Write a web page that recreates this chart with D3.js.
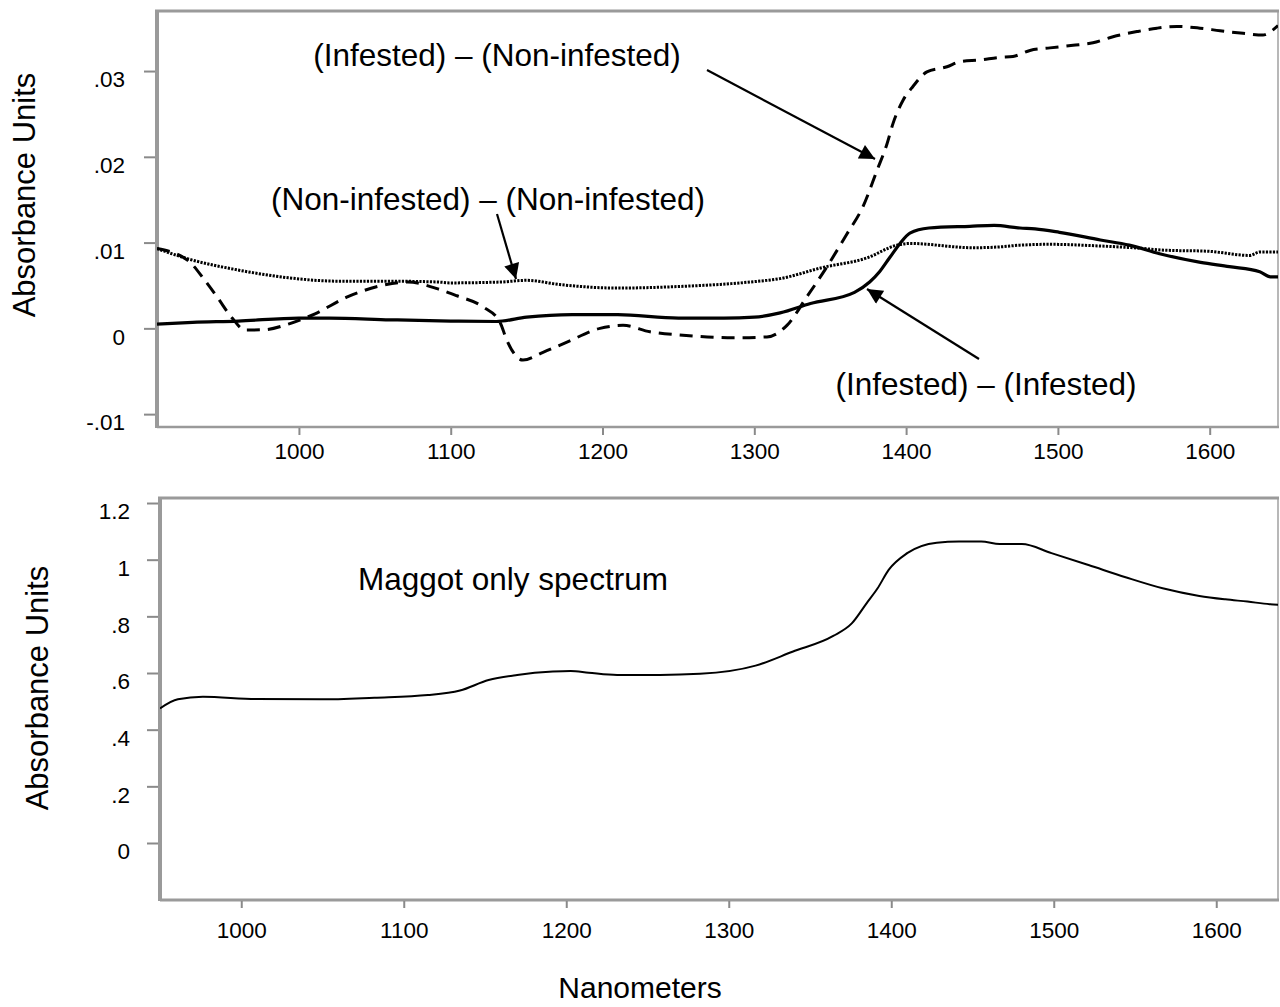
<!DOCTYPE html>
<html>
<head>
<meta charset="utf-8">
<script src="https://cdn.jsdelivr.net/npm/d3@7/dist/d3.min.js"></script>
<style>
  html, body { margin: 0; padding: 0; background: #fff; }
  svg { display: block; }
  text { font-family: "Liberation Sans", Arial, Helvetica, sans-serif; fill: #000; }
</style>
</head>
<body>
<svg id="chart" width="1280" height="1007"></svg>
<script>
// ---------------- DATA ----------------
// Top panel: difference spectra (nm, absorbance units)
const nmInfNon  = [906.5, 927, 938, 946.7, 956, 964.5, 977.6, 993, 1010.6, 1032.3, 1054.7, 1071.8, 1091.6, 1104, 1121.3, 1132.5, 1137, 1147.6, 1160.8, 1176.6, 1198.3, 1213.5, 1231.3, 1253, 1286, 1308.3, 1321.5, 1334.7, 1347.9, 1361, 1371.6, 1380.8, 1387.4, 1391.4, 1398, 1404.5, 1413.7, 1426.9, 1435.5, 1448.6, 1461.8, 1470.4, 1481.6, 1494.8, 1510, 1523.1, 1536.3, 1552.1, 1565.3, 1578.4, 1593.6, 1606.8, 1622, 1635.1, 1641.7, 1645];
const absInfNon = [0.0093, 0.0079, 0.0056, 0.0035, 0.0012, -0.0002, -0.00015, 0.0005, 0.0017, 0.0037, 0.0050, 0.0054, 0.0046, 0.0038, 0.0025, 0.0007, -0.0014, -0.0037, -0.0028, -0.0016, 0.0000, 0.00035, -0.0004, -0.0008, -0.0011, -0.0010, 0.00035, 0.0037, 0.0072, 0.0110, 0.0142, 0.0184, 0.0215, 0.0239, 0.0266, 0.0282, 0.0299, 0.0305, 0.0311, 0.0313, 0.0316, 0.0317, 0.0324, 0.0327, 0.0330, 0.0333, 0.0340, 0.0346, 0.0350, 0.0352, 0.0350, 0.0347, 0.0344, 0.0342, 0.0348, 0.0353];

const nmNonNon  = [906.5, 927, 960, 993, 1026, 1059, 1092, 1099.5, 1132.5, 1150, 1172, 1209.5, 1253, 1297, 1317, 1345, 1374, 1394, 1402.5, 1444, 1462, 1475, 1495, 1528, 1549.5, 1572, 1598, 1626.5, 1633, 1645];
const absNonNon = [0.0093, 0.0081, 0.0068, 0.0059, 0.0055, 0.0055, 0.0054, 0.0053, 0.0054, 0.0056, 0.0051, 0.0047, 0.0049, 0.0054, 0.0058, 0.0071, 0.0082, 0.0097, 0.0099, 0.0094, 0.0095, 0.0097, 0.0098, 0.0096, 0.0094, 0.0091, 0.0090, 0.0085, 0.0089, 0.0089];

const nmInfInf  = [906.5, 930, 960, 1000, 1020, 1060, 1100, 1130, 1150, 1180, 1210, 1250, 1280, 1300, 1317, 1337, 1366, 1376, 1382.5, 1389, 1396, 1402.5, 1415, 1442, 1458, 1475, 1485, 1501, 1528, 1547, 1567, 1594, 1613, 1633, 1640, 1645];
const absInfInf = [0.0005, 0.0007, 0.00085, 0.0012, 0.0012, 0.0010, 0.00085, 0.0008, 0.0013, 0.0016, 0.0016, 0.0012, 0.0012, 0.0013, 0.0018, 0.0029, 0.0042, 0.0054, 0.0066, 0.0082, 0.0099, 0.0111, 0.0117, 0.0119, 0.0120, 0.0117, 0.0116, 0.0112, 0.0103, 0.0097, 0.0087, 0.0077, 0.0072, 0.0066, 0.0060, 0.0060];

// Bottom panel: maggot only spectrum
const nmMaggot  = [950, 961, 976.4, 1009.3, 1048.9, 1081.9, 1114.9, 1134.6, 1152.2, 1169.8, 1191.8, 1202.7, 1213.8, 1231.3, 1257.7, 1282.3, 1316.5, 1339.2, 1364.3, 1375.7, 1384.8, 1391.6, 1398.4, 1409.8, 1428, 1441.7, 1455.4, 1466.7, 1480.4, 1498.6, 1521.4, 1544.2, 1567, 1589.6, 1605.6, 1619.2, 1632.9, 1638.6];
const absMaggot = [0.475, 0.507, 0.516, 0.508, 0.507, 0.513, 0.522, 0.538, 0.575, 0.593, 0.605, 0.607, 0.601, 0.593, 0.593, 0.597, 0.626, 0.675, 0.731, 0.775, 0.846, 0.899, 0.964, 1.023, 1.060, 1.064, 1.064, 1.055, 1.055, 1.023, 0.981, 0.938, 0.899, 0.872, 0.860, 0.852, 0.843, 0.841];

// Ticks
const topXTicks = [1000, 1100, 1200, 1300, 1400, 1500, 1600];
const topYTicks = [-0.01, 0, 0.01, 0.02, 0.03];
const topYLabels = ["-.01", "0", ".01", ".02", ".03"];
const botXTicks = [1000, 1100, 1200, 1300, 1400, 1500, 1600];
const botYTicks = [0, 0.2, 0.4, 0.6, 0.8, 1, 1.2];
const botYLabels = ["0", ".2", ".4", ".6", ".8", "1", "1.2"];

// Texts
const yTitle = "Absorbance Units";
const xTitle = "Nanometers";
const lblInfNon = "(Infested) \u2013 (Non-infested)";
const lblNonNon = "(Non-infested) \u2013 (Non-infested)";
const lblInfInf = "(Infested) \u2013 (Infested)";
const lblMaggot = "Maggot only spectrum";

// ---------------- DRAWING ----------------
const svg = d3.select("#chart");
const FRAME = "#9a9a9a";
const TICK = "#8a8a8a";

svg.append("defs").append("marker")
  .attr("id", "arrow").attr("viewBox", "0 0 10 10")
  .attr("refX", 10).attr("refY", 5)
  .attr("markerWidth", 9).attr("markerHeight", 7)
  .attr("markerUnits", "strokeWidth")
  .attr("orient", "auto")
  .append("path").attr("d", "M0,0 L10,5 L0,10 Z").attr("fill", "#000");

function panel(cfg) {
  const g = svg.append("g");
  const x = d3.scaleLinear().domain(cfg.xDomain).range([cfg.left, cfg.right]);
  const y = d3.scaleLinear().domain(cfg.yDomain).range([cfg.bottom, cfg.top]);

  const clipId = "clip" + cfg.id;
  svg.select("defs").append("clipPath").attr("id", clipId)
    .append("rect").attr("x", cfg.left).attr("y", cfg.top)
    .attr("width", cfg.right - cfg.left).attr("height", cfg.bottom - cfg.top);

  // frame: thin right/bottom, thicker left/top
  g.append("line").attr("x1", cfg.right).attr("x2", cfg.right).attr("y1", cfg.top).attr("y2", cfg.bottom)
    .attr("stroke", "#b8b8b8").attr("stroke-width", 2);
  g.append("line").attr("x1", cfg.left).attr("x2", cfg.right + 1).attr("y1", cfg.bottom).attr("y2", cfg.bottom)
    .attr("stroke", FRAME).attr("stroke-width", cfg.bottomW);
  g.append("line").attr("x1", cfg.left - 2).attr("x2", cfg.right + 1).attr("y1", cfg.top).attr("y2", cfg.top)
    .attr("stroke", FRAME).attr("stroke-width", 3);
  g.append("line").attr("x1", cfg.left).attr("x2", cfg.left).attr("y1", cfg.top - 1).attr("y2", cfg.bottom + 1)
    .attr("stroke", FRAME).attr("stroke-width", 4);

  // y axis
  const ya = d3.axisLeft(y).tickValues(cfg.yTicks)
    .tickFormat((d, i) => cfg.yLabels[i]).tickSize(11).tickPadding(cfg.yPad);
  const yg = g.append("g").attr("transform", `translate(${cfg.left - 2},0)`).call(ya);
  yg.select(".domain").remove();
  yg.selectAll(".tick line").attr("stroke", TICK).attr("stroke-width", 2);
  yg.selectAll(".tick text").attr("font-size", 22.5).attr("dy", "0.7em")
    .style("font-family", "'Liberation Sans', Arial, sans-serif").attr("fill", "#000");

  // x axis
  const xa = d3.axisBottom(x).tickValues(cfg.xTicks).tickFormat(d3.format("d"))
    .tickSize(7).tickPadding(cfg.xPad);
  const xg = g.append("g").attr("transform", `translate(0,${cfg.bottom + 1})`).call(xa);
  xg.select(".domain").remove();
  xg.selectAll(".tick line").attr("stroke", TICK).attr("stroke-width", 2);
  xg.selectAll(".tick text").attr("font-size", 22.5)
    .style("font-family", "'Liberation Sans', Arial, sans-serif").attr("fill", "#000");

  // y title
  g.append("text").attr("transform", `translate(${cfg.yTitleX},${(cfg.top + cfg.bottom) / 2 + cfg.yTitleDy}) rotate(-90)`)
    .attr("text-anchor", "middle").attr("font-size", 31).text(yTitle);

  const plot = g.append("g").attr("clip-path", `url(#${clipId})`);
  return { x, y, g, plot };
}

// ----- Top panel -----
const T = panel({
  id: "T", left: 157, right: 1278, top: 11, bottom: 427,
  xDomain: [906.5, 1645], yDomain: [-0.0115, 0.037],
  xTicks: topXTicks, yTicks: topYTicks, yLabels: topYLabels,
  yPad: 19, xPad: 8, bottomW: 2.5, yTitleX: 35, yTitleDy: -24
});

function drawLine(P, xs, ys, style) {
  const pts = xs.map((d, i) => [d, ys[i]]);
  const line = d3.line().x(d => P.x(d[0])).y(d => P.y(d[1])).curve(d3.curveMonotoneX);
  const p = P.plot.append("path").datum(pts).attr("d", line)
    .attr("fill", "none").attr("stroke", "#000")
    .attr("stroke-width", style.w).attr("stroke-linejoin", "round");
  if (style.dash) p.attr("stroke-dasharray", style.dash);
  if (style.cap) p.attr("stroke-linecap", style.cap);
  return p;
}

drawLine(T, nmNonNon, absNonNon, { w: 3, dash: "2.2,1.3" });
drawLine(T, nmInfInf, absInfInf, { w: 3.2 });
drawLine(T, nmInfNon, absInfNon, { w: 3, dash: "13,8" });

// annotations top
T.g.append("text").attr("x", 497).attr("y", 66).attr("text-anchor", "middle").attr("font-size", 31.5).text(lblInfNon);
T.g.append("text").attr("x", 488).attr("y", 210).attr("text-anchor", "middle").attr("font-size", 31.5).text(lblNonNon);
T.g.append("text").attr("x", 986).attr("y", 395).attr("text-anchor", "middle").attr("font-size", 31.5).text(lblInfInf);

function arrow(x1, y1, x2, y2) {
  svg.append("line").attr("x1", x1).attr("y1", y1).attr("x2", x2).attr("y2", y2)
    .attr("stroke", "#000").attr("stroke-width", 2.2).attr("marker-end", "url(#arrow)");
}
arrow(707, 70, 875, 159);
arrow(497, 214, 516, 279);
arrow(979, 359, 867, 289);

// ----- Bottom panel -----
const B = panel({
  id: "B", left: 160, right: 1278, top: 498, bottom: 900,
  xDomain: [950, 1638], yDomain: [-0.2012, 1.2177],
  xTicks: botXTicks, yTicks: botYTicks, yLabels: botYLabels,
  yPad: 17, xPad: 14, bottomW: 3, yTitleX: 48, yTitleDy: -11
});
drawLine(B, nmMaggot, absMaggot, { w: 2 });
B.g.append("text").attr("x", 358).attr("y", 590).attr("font-size", 31.5).text(lblMaggot);

svg.append("text").attr("x", 640).attr("y", 998).attr("text-anchor", "middle").attr("font-size", 30).text(xTitle);
</script>
</body>
</html>
